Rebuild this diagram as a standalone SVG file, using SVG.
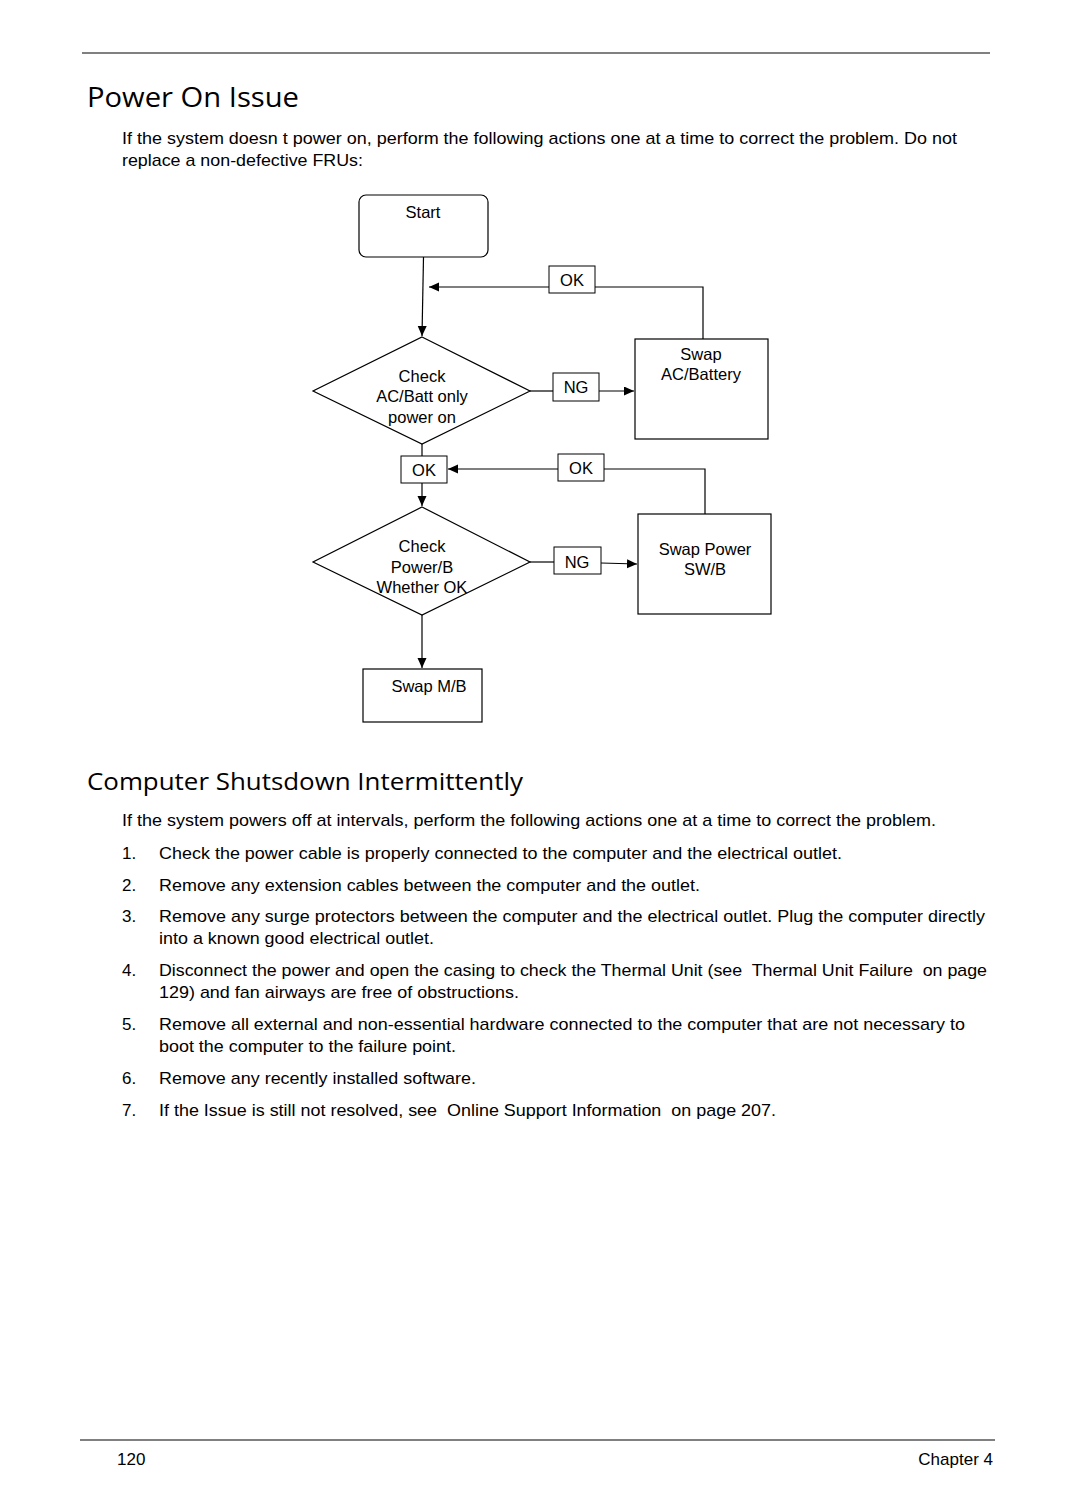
<svg xmlns="http://www.w3.org/2000/svg" width="1080" height="1512" viewBox="0 0 1080 1512">
<style>
.rule{stroke:#808080;stroke-width:2;fill:none}
.h1{font-family:"Open Sans","Liberation Sans",sans-serif;font-size:28px;fill:#000}
.h2{font-family:"Open Sans","Liberation Sans",sans-serif;font-size:24px;fill:#000}
.body{font-family:"Liberation Sans",Arial,sans-serif;font-size:17px;fill:#000}
.fc{font-family:"Liberation Sans",Arial,sans-serif;font-size:16.5px;fill:#000;text-anchor:middle}
.shape{fill:#fff;stroke:#000;stroke-width:1.2}
.lbl{fill:#fff;stroke:#000;stroke-width:1}
.conn{fill:none;stroke:#000;stroke-width:1.2}
</style>
<defs>
<marker id="ah" markerUnits="userSpaceOnUse" markerWidth="11" markerHeight="10" refX="10" refY="4.5" orient="auto">
<path d="M0,0 L10,4.5 L0,9 z" fill="#000"/>
</marker>
</defs>
<rect width="1080" height="1512" fill="#fff"/>
<line class="rule" x1="82" y1="53" x2="990" y2="53"/>
<text class="h1" x="87" y="107" textLength="212" lengthAdjust="spacingAndGlyphs">Power On Issue</text>
<text class="body" x="122" y="144" textLength="835" lengthAdjust="spacingAndGlyphs">If the system doesn t power on, perform the following actions one at a time to correct the problem. Do not</text>
<text class="body" x="122" y="166" textLength="241" lengthAdjust="spacingAndGlyphs">replace a non-defective FRUs:</text>

<g id="connectors">
<line class="conn" x1="423.5" y1="257" x2="422" y2="336" marker-end="url(#ah)"/>
<polyline class="conn" points="703,339 703,287 595,287"/>
<line class="conn" x1="549" y1="287" x2="429" y2="287" marker-end="url(#ah)"/>
<line class="conn" x1="530" y1="391" x2="553" y2="391"/>
<line class="conn" x1="599" y1="391" x2="634" y2="391" marker-end="url(#ah)"/>
<line class="conn" x1="422" y1="444" x2="422" y2="456"/>
<line class="conn" x1="422" y1="483" x2="422" y2="506" marker-end="url(#ah)"/>
<polyline class="conn" points="705,514 705,469 604,469"/>
<line class="conn" x1="558" y1="469" x2="448" y2="469" marker-end="url(#ah)"/>
<line class="conn" x1="530" y1="562" x2="554" y2="562"/>
<line class="conn" x1="601" y1="563" x2="637" y2="564" marker-end="url(#ah)"/>
<line class="conn" x1="422" y1="615" x2="422" y2="668" marker-end="url(#ah)"/>
</g>

<g id="start">
<rect class="shape" x="359" y="195" width="129" height="62" rx="7"/>
<text class="fc" x="423" y="218">Start</text>
</g>
<g id="ok1">
<rect class="lbl" x="549" y="266" width="46" height="27"/>
<text class="fc" x="572" y="286">OK</text>
</g>
<g id="check-ac">
<polygon class="shape" points="422,337 530,391 422,444 313,391"/>
<text class="fc" x="422" y="382">Check</text>
<text class="fc" x="422" y="402">AC/Batt only</text>
<text class="fc" x="422" y="423">power on</text>
</g>
<g id="ng1">
<rect class="lbl" x="553" y="373" width="46" height="28"/>
<text class="fc" x="576" y="393">NG</text>
</g>
<g id="swap-ac">
<rect class="shape" x="635" y="339" width="133" height="100"/>
<text class="fc" x="701" y="360">Swap</text>
<text class="fc" x="701" y="380">AC/Battery</text>
</g>
<g id="ok2">
<rect class="lbl" x="401" y="456" width="46" height="27"/>
<text class="fc" x="424" y="476">OK</text>
</g>
<g id="ok3">
<rect class="lbl" x="558" y="454" width="46" height="27"/>
<text class="fc" x="581" y="474">OK</text>
</g>
<g id="check-powerb">
<polygon class="shape" points="422,507 530,562 422,615 313,562"/>
<text class="fc" x="422" y="552">Check</text>
<text class="fc" x="422" y="573">Power/B</text>
<text class="fc" x="422" y="593">Whether OK</text>
</g>
<g id="ng2">
<rect class="lbl" x="554" y="547" width="47" height="27"/>
<text class="fc" x="577" y="568">NG</text>
</g>
<g id="swap-power">
<rect class="shape" x="638" y="514" width="133" height="100"/>
<text class="fc" x="705" y="555">Swap Power</text>
<text class="fc" x="705" y="575">SW/B</text>
</g>
<g id="swap-mb">
<rect class="shape" x="363" y="669" width="119" height="53"/>
<text class="fc" x="429" y="692">Swap M/B</text>
</g>

<text class="h2" x="87" y="790" textLength="436" lengthAdjust="spacingAndGlyphs">Computer Shutsdown Intermittently</text>
<text class="body" x="122" y="826" textLength="814" lengthAdjust="spacingAndGlyphs">If the system powers off at intervals, perform the following actions one at a time to correct the problem.</text>
<text class="body" x="122" y="859">1.</text>
<text class="body" x="159" y="859" textLength="683" lengthAdjust="spacingAndGlyphs">Check the power cable is properly connected to the computer and the electrical outlet.</text>
<text class="body" x="122" y="891">2.</text>
<text class="body" x="159" y="891" textLength="541" lengthAdjust="spacingAndGlyphs">Remove any extension cables between the computer and the outlet.</text>
<text class="body" x="122" y="922">3.</text>
<text class="body" x="159" y="922" textLength="826" lengthAdjust="spacingAndGlyphs">Remove any surge protectors between the computer and the electrical outlet. Plug the computer directly</text>
<text class="body" x="159" y="944" textLength="275" lengthAdjust="spacingAndGlyphs">into a known good electrical outlet.</text>
<text class="body" x="122" y="976">4.</text>
<text class="body" x="159" y="976" textLength="828" lengthAdjust="spacingAndGlyphs" xml:space="preserve">Disconnect the power and open the casing to check the Thermal Unit (see  Thermal Unit Failure  on page</text>
<text class="body" x="159" y="998" textLength="360" lengthAdjust="spacingAndGlyphs">129) and fan airways are free of obstructions.</text>
<text class="body" x="122" y="1030">5.</text>
<text class="body" x="159" y="1030" textLength="806" lengthAdjust="spacingAndGlyphs">Remove all external and non-essential hardware connected to the computer that are not necessary to</text>
<text class="body" x="159" y="1052" textLength="297" lengthAdjust="spacingAndGlyphs">boot the computer to the failure point.</text>
<text class="body" x="122" y="1084">6.</text>
<text class="body" x="159" y="1084" textLength="317" lengthAdjust="spacingAndGlyphs">Remove any recently installed software.</text>
<text class="body" x="122" y="1116">7.</text>
<text class="body" x="159" y="1116" textLength="617" lengthAdjust="spacingAndGlyphs" xml:space="preserve">If the Issue is still not resolved, see  Online Support Information  on page 207.</text>

<line class="rule" x1="80" y1="1440" x2="995" y2="1440"/>
<text class="body" x="117" y="1465">120</text>
<text class="body" x="993" y="1465" text-anchor="end">Chapter 4</text>
</svg>
